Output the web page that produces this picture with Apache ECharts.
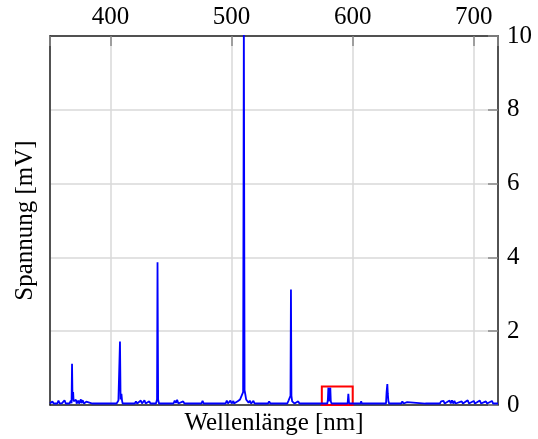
<!DOCTYPE html>
<html>
<head>
<meta charset="utf-8">
<script src="https://cdn.jsdelivr.net/npm/echarts@6/dist/echarts.min.js"></script>
<style>html,body{margin:0;padding:0;background:#fff}#c{width:538px;height:439px}</style>
</head>
<body>
<div id="c"></div>
<script>
const xTicks = [400, 500, 600, 700];
const yTicks = [0, 2, 4, 6, 8, 10];
const wavelength = [350,352,353,356,357,358,360,362,363,366,367.2,367.8,368.2,368.6,369.1,369.5,370.5,371.5,372,373.5,374,375.5,376,377,378,380,381,385,386,387,395,396,397,405,406.5,407.4,407.8,408.3,409,409.5,410,420,421,422,425,426,428,429,432,433,437.5,438.4,438.8,439.3,440,452,453,454,455,456,460,461,475,476,477,495,496,497,499,500,501.5,502,505,506,507,508.5,509.5,510.1,510.7,511.5,512,513,514,515,516,518,519,530,531,532,546,547,548,548.6,549,549.4,550,551,552,555,556,579,579.5,579.9,580.3,581.2,581.5,581.9,582.5,595.8,596.4,597,606.5,607,607.5,618,618.5,619,627.5,628,628.6,629,629.5,630,640,641,642,645,646,660,661,662,672,673,675,676,680,681,682,683,684,685,690,691,695,696,700,701,705,706,710,711,715,716,720];
const voltage =    [0.04,0.1,0.04,0.04,0.12,0.04,0.05,0.13,0.04,0.04,0.12,0.05,1.12,0.15,0.35,0.1,0.08,0.14,0.04,0.12,0.04,0.15,0.05,0.13,0.04,0.09,0.04,0.04,0.08,0.04,0.04,0.08,0.04,0.04,0.12,0.15,1.72,0.15,0.3,0.12,0.04,0.04,0.1,0.04,0.12,0.04,0.13,0.04,0.1,0.04,0.04,0.15,3.87,0.15,0.04,0.04,0.12,0.06,0.14,0.04,0.1,0.04,0.04,0.11,0.04,0.04,0.12,0.04,0.12,0.04,0.11,0.04,0.1,0.06,0.15,0.2,0.35,10.5,0.4,0.25,0.15,0.13,0.06,0.12,0.04,0.11,0.04,0.04,0.1,0.04,0.04,0.12,0.15,0.25,3.13,0.25,0.1,0.13,0.04,0.1,0.04,0.04,0.15,0.47,0.1,0.15,0.47,0.1,0.04,0.04,0.3,0.04,0.04,0.1,0.04,0.04,0.08,0.04,0.04,0.35,0.57,0.3,0.1,0.04,0.04,0.1,0.04,0.08,0.04,0.04,0.08,0.04,0.04,0.1,0.11,0.04,0.12,0.04,0.13,0.04,0.11,0.04,0.1,0.04,0.13,0.04,0.11,0.04,0.12,0.04,0.1,0.04,0.11,0.04,0.04];
const boxX = [574.5, 600];
const boxY = [0, 0.5];

const data = wavelength.map((w, i) => [w, voltage[i]]);
const font = 'Liberation Serif';
const fs = 25;
const frame = {show: true, onZero: false, lineStyle: {color: '#222', width: 1.5}};

const chart = echarts.init(document.getElementById('c'));
chart.setOption({
  animation: false,
  backgroundColor: '#fff',
  grid: {left: 50, right: 40, top: 36, bottom: 34, containLabel: false, outerBoundsMode: 'none'},
  xAxis: [
    {type: 'value', position: 'top', min: 350, max: 720, splitNumber: 4,
     axisLine: frame,
     axisTick: {show: true, inside: true, length: 10, lineStyle: {color: '#888', width: 1.5}},
     axisLabel: {show: true, margin: 6, color: '#000', fontFamily: font, fontSize: fs,
       formatter: v => (xTicks.indexOf(v) >= 0 ? String(v) : '')},
     splitLine: {show: true, lineStyle: {color: '#d9d9d9', width: 1.5}}},
    {type: 'value', position: 'bottom', min: 350, max: 720, splitNumber: 4,
     axisLine: frame, axisTick: {show: false}, axisLabel: {show: false}, splitLine: {show: false},
     name: 'Wellenlänge [nm]', nameLocation: 'middle', nameGap: 6,
     nameTextStyle: {color: '#000', fontFamily: font, fontSize: fs, verticalAlign: 'top'}}
  ],
  yAxis: [
    {type: 'value', position: 'right', min: 0, max: 10, interval: 2,
     axisLine: frame,
     axisTick: {show: true, inside: true, length: 10, lineStyle: {color: '#888', width: 1.5}},
     axisLabel: {show: true, margin: 9, color: '#000', fontFamily: font, fontSize: fs,
       formatter: v => (yTicks.indexOf(v) >= 0 ? String(v) : '')},
     splitLine: {show: true, lineStyle: {color: '#d9d9d9', width: 1.5}}},
    {type: 'value', position: 'left', min: 0, max: 10, interval: 2,
     axisLine: frame, axisTick: {show: false}, axisLabel: {show: false}, splitLine: {show: false},
     name: 'Spannung [mV]', nameLocation: 'middle', nameGap: 12, nameRotate: 90,
     nameTextStyle: {color: '#000', fontFamily: font, fontSize: fs}}
  ],
  series: [{
    type: 'line', xAxisIndex: 0, yAxisIndex: 0, data: data,
    showSymbol: false, symbol: 'none', clip: true,
    lineStyle: {color: '#0000ff', width: 1.8},
    markArea: {silent: true,
      itemStyle: {color: 'rgba(0,0,0,0)', borderColor: '#ff0000', borderWidth: 2},
      data: [[{xAxis: boxX[0], yAxis: boxY[0]}, {xAxis: boxX[1], yAxis: boxY[1]}]]}
  }]
});
</script>
</body>
</html>
